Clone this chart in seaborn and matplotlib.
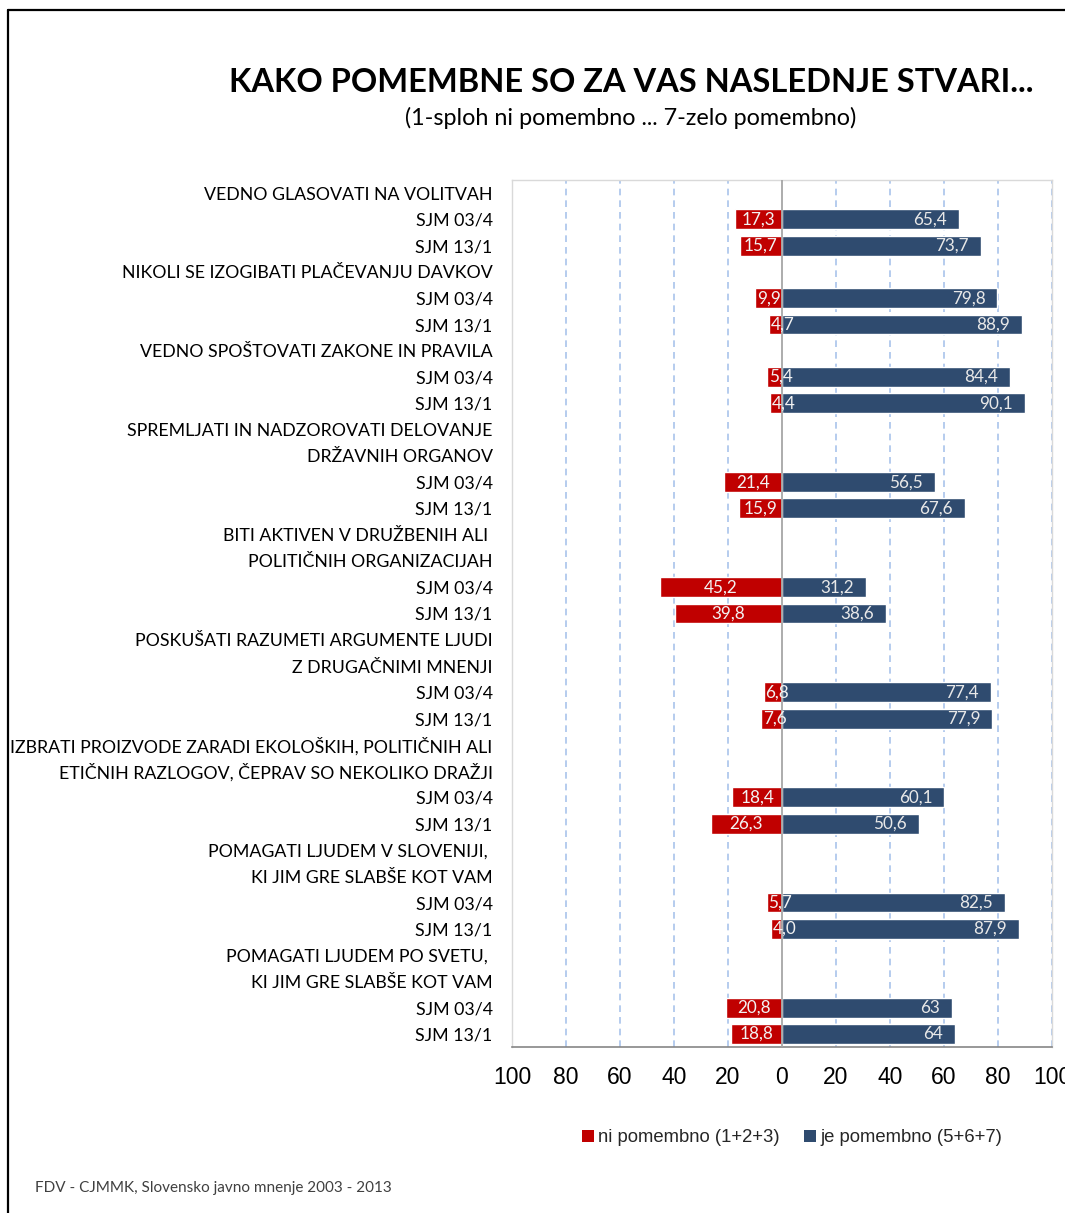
import matplotlib
matplotlib.use("Agg")
import matplotlib.pyplot as plt
from matplotlib.lines import Line2D
from matplotlib.patches import Patch
import seaborn as sns
import pandas as pd
import numpy as np

# ---------------- data ----------------
row_labels = [
    "VEDNO GLASOVATI NA VOLITVAH", "SJM 03/4", "SJM 13/1",
    "NIKOLI SE IZOGIBATI PLAČEVANJU DAVKOV", "SJM 03/4", "SJM 13/1",
    "VEDNO SPOŠTOVATI ZAKONE IN PRAVILA", "SJM 03/4", "SJM 13/1",
    "SPREMLJATI IN NADZOROVATI DELOVANJE", "DRŽAVNIH ORGANOV", "SJM 03/4", "SJM 13/1",
    "BITI AKTIVEN V DRUŽBENIH ALI ", "POLITIČNIH ORGANIZACIJAH", "SJM 03/4", "SJM 13/1",
    "POSKUŠATI RAZUMETI ARGUMENTE LJUDI", "Z DRUGAČNIMI MNENJI", "SJM 03/4", "SJM 13/1",
    "IZBRATI PROIZVODE ZARADI EKOLOŠKIH, POLITIČNIH ALI", "ETIČNIH RAZLOGOV, ČEPRAV SO NEKOLIKO DRAŽJI",
    "SJM 03/4", "SJM 13/1",
    "POMAGATI LJUDEM V SLOVENIJI, ", "KI JIM GRE SLABŠE KOT VAM", "SJM 03/4", "SJM 13/1",
    "POMAGATI LJUDEM PO SVETU, ", "KI JIM GRE SLABŠE KOT VAM", "SJM 03/4", "SJM 13/1",
]
# indices (rows) that carry data
data_rows = [1, 2, 4, 5, 7, 8, 11, 12, 15, 16, 19, 20, 23, 24, 27, 28, 31, 32]
ni_pomembno = ["17,3", "15,7", "9,9", "4,7", "5,4", "4,4", "21,4", "15,9", "45,2", "39,8",
               "6,8", "7,6", "18,4", "26,3", "5,7", "4,0", "20,8", "18,8"]
je_pomembno = ["65,4", "73,7", "79,8", "88,9", "84,4", "90,1", "56,5", "67,6", "31,2", "38,6",
               "77,4", "77,9", "60,1", "50,6", "82,5", "87,9", "63", "64"]
series_names = ["ni pomembno (1+2+3)", "je pomembno (5+6+7)"]
x_ticks = [-100, -80, -60, -40, -20, 0, 20, 40, 60, 80, 100]

title = "KAKO POMEMBNE SO ZA VAS NASLEDNJE STVARI..."
subtitle = "(1-sploh ni pomembno ... 7-zelo pomembno)"
footer = "FDV - CJMMK, Slovensko javno mnenje 2003 - 2013"

RED = "#C00000"
BLUE = "#2F4B6F"

def num(s):
    return float(s.replace(",", "."))

row_keys = [f"r{i:02d}" for i in range(len(row_labels))]
rec = []
for r, a, b in zip(data_rows, ni_pomembno, je_pomembno):
    rec.append({"row": row_keys[r], "value": -num(a), "series": series_names[0], "label": a})
    rec.append({"row": row_keys[r], "value": num(b), "series": series_names[1], "label": b})
df = pd.DataFrame(rec)

# ---------------- figure ----------------
sns.set_style("white")
plt.rcParams["font.family"] = ["Lato", "DejaVu Sans"]

W, H = 1065, 1213
fig = plt.figure(figsize=(W / 100, H / 100), dpi=100)
ax = fig.add_axes([512 / W, 1 - 1047 / H, (1052 - 512) / W, (1047 - 180) / H])

sns.barplot(data=df, y="row", x="value", hue="series", order=row_keys,
            palette={series_names[0]: RED, series_names[1]: BLUE},
            dodge=False, width=0.76, orient="h", ax=ax, legend=False,
            saturation=1, zorder=3)

ax.set_xlim(-100, 100)
ax.set_ylim(len(row_keys) - 0.5, -0.5)
ax.set_xticks(x_ticks)
ax.set_xticklabels([str(abs(t)) for t in x_ticks], family="Liberation Sans", fontsize=16.5,
                   color="black")
ax.set_yticks(range(len(row_keys)))
ax.set_yticklabels(row_labels, fontsize=12.8, color="black")
ax.set_xlabel("")
ax.set_ylabel("")
ax.tick_params(axis="y", length=0, pad=14)
ax.tick_params(axis="x", length=7, width=1, color="#868686", pad=7, direction="out")

# grid
for t in x_ticks:
    if t == 0:
        ax.axvline(0, color="#A6A6A6", lw=1.3, zorder=4)
    else:
        ax.axvline(t, color="#A9C4EB", lw=1.2, ls=(0, (4, 3)), zorder=1)

for side in ["top", "right", "left"]:
    ax.spines[side].set_color("#D9D9D9")
    ax.spines[side].set_linewidth(1)
ax.spines["bottom"].set_color("#868686")
ax.spines["bottom"].set_linewidth(1.2)

# data labels
fig.canvas.draw()
renderer = fig.canvas.get_renderer()
px_per_unit = ax.transData.transform((1, 0))[0] - ax.transData.transform((0, 0))[0]
for _, rr in df.iterrows():
    y = row_keys.index(rr["row"])
    v = rr["value"]
    if v > 0:
        ax.annotate(rr["label"], (v, y), xytext=(-12 * 0.72, 0), textcoords="offset points",
                    ha="right", va="center", fontsize=12.3, color="#E8E8E8", zorder=6)
    else:
        t = ax.text(v / 2, y, rr["label"], ha="center", va="center", fontsize=12.3,
                    color="#F2F2F2", zorder=6)
        w = t.get_window_extent(renderer).width
        if w > abs(v) * px_per_unit - 4:
            t.remove()
            ax.annotate(rr["label"], (v, y), xytext=(1, 0), textcoords="offset points",
                        ha="left", va="center", fontsize=12.3, color="#F2F2F2", zorder=6)

# titles
fig.text(631 / W, 1 - 82 / H, title, ha="center", va="center", fontsize=23.5,
         fontweight="bold", color="black")
fig.text(631 / W, 1 - 118 / H, subtitle, ha="center", va="center", fontsize=16.8, color="black")
fig.text(35 / W, 1 - 1188 / H, footer, ha="left", va="center", fontsize=11, color="#404040")

# legend
handles = [Patch(facecolor=RED, edgecolor="none"), Patch(facecolor=BLUE, edgecolor="none")]
fig.legend(handles, series_names, loc="center", bbox_to_anchor=(792 / W, 1 - 1138 / H),
           ncol=2, frameon=False, handlelength=0.65, handleheight=0.65, handletextpad=0.25,
           columnspacing=1.3, prop={"family": "Liberation Sans", "size": 13.3})

# outer frame
fig.add_artist(Line2D([8 / W, 8 / W], [0, 1 - 10 / H], transform=fig.transFigure,
                      color="black", lw=1.6))
fig.add_artist(Line2D([8 / W, 1], [1 - 10 / H, 1 - 10 / H], transform=fig.transFigure,
                      color="black", lw=1.6))

fig.savefig("out.png", dpi=100)
